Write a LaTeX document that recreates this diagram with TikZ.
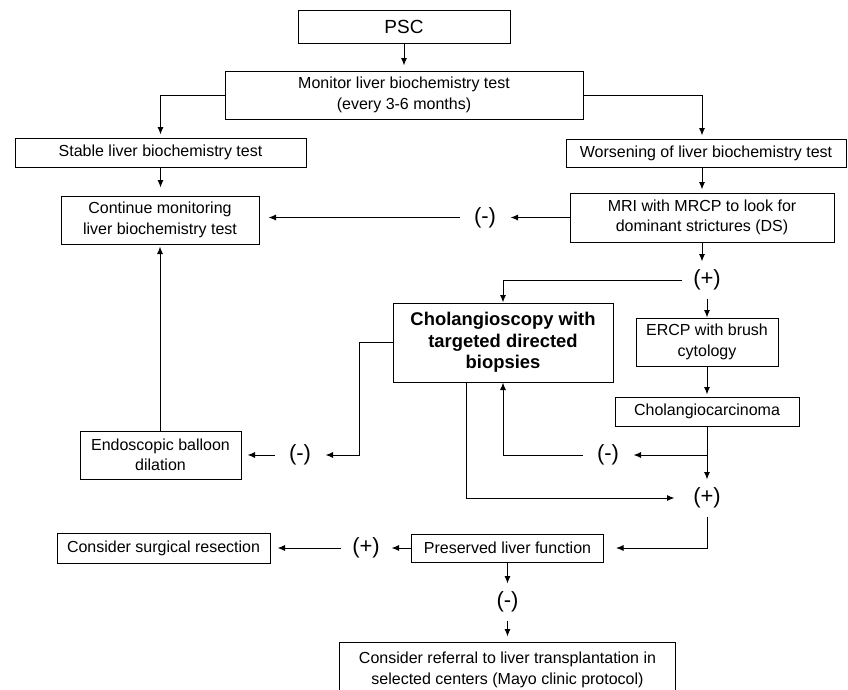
\documentclass[tikz,border=0pt]{standalone}
\usepackage{fontspec}
\setmainfont{Liberation Sans}
\usetikzlibrary{arrows.meta,calc}
\begin{document}
\begin{tikzpicture}[x=1pt,y=-1pt,
  line width=1pt,
  every node/.style={font=\fontsize{16}{20.5}\selectfont},
  box/.style 2 args={draw, line width=1pt, inner sep=0pt, align=center, minimum width=#1, minimum height=#2},
  sign/.style={inner sep=0pt, minimum width=50pt, minimum height=36pt, font=\fontsize{22}{24}\selectfont},
  arr/.style={-{Latex[length=7.5pt,width=6pt]}},
]
\useasboundingbox (0,0) rectangle (848,689);

\node[box={212pt}{33pt}, font=\fontsize{19}{22}\selectfont] (psc) at (404,26.5) {PSC};
\node[box={358pt}{48pt}] (mon) at (404,95) {Monitor liver biochemistry test\\(every 3-6 months)};
\node[box={291pt}{29pt}] (stab) at (160.5,152.5) {Stable liver biochemistry test};
\node[box={280pt}{28pt}] (wors) at (706,153) {Worsening of liver biochemistry test};
\node[box={198pt}{48pt}] (cont) at (160,220) {Continue monitoring\\liver biochemistry test};
\node[box={264pt}{49pt}] (mri) at (702,217.5) {MRI with MRCP to look for\\dominant strictures (DS)};
\node[sign] (m1) at (485,217.5) {(-)};
\node[sign] (p1) at (707,280) {(+)};
\node[box={220pt}{79pt}, font=\fontsize{18.4}{21.5}\selectfont\bfseries] (chol) at (503,342.5) {Cholangioscopy with\\targeted directed\\biopsies};
\node[box={142pt}{48pt}] (ercp) at (707,342) {ERCP with brush\\cytology};
\node[box={184pt}{29pt}] (carc) at (707,411.5) {Cholangiocarcinoma};
\node[sign] (m2) at (608,455) {(-)};
\node[sign] (m3) at (300,455) {(-)};
\node[box={161pt}{48pt}] (endo) at (160.5,455) {Endoscopic balloon\\dilation};
\node[sign] (p2) at (707,498) {(+)};
\node[box={192pt}{28pt}] (pres) at (507.5,548) {Preserved liver function};
\node[sign] (p3) at (366,548) {(+)};
\node[box={213pt}{30pt}] (surg) at (163.5,548) {Consider surgical resection};
\node[sign] (m4) at (507.5,602) {(-)};
\node[box={336pt}{56pt}] (ref) at (507.5,670) {Consider referral to liver transplantation in\\selected centers (Mayo clinic protocol)};

\draw[arr, shorten >=5pt] (psc.south) -- (psc.south |- mon.north);
\draw[arr, shorten >=3pt] (mon.west) -| (stab.north);
\draw[arr, shorten >=3pt] (mon.east) -| (wors.north -| mri.north);
\draw[arr, shorten >=8pt] (stab.south) -- (stab.south |- cont.north);
\draw[arr, shorten >=3pt] (wors.south -| mri.north) -- (mri.north);
\draw[arr] (mri.west) -- (m1.east);
\draw[arr, shorten >=9pt] (m1.west) -- (m1.west -| cont.east);
\draw[arr] (mri.south) -- (mri.south |- p1.north);
\draw[arr] (p1.west) -| (chol.north);
\draw[arr] (p1.south) -- (p1.south |- ercp.north);
\draw[arr, shorten >=2pt] (ercp.south) -- (carc.north);
\draw[arr] (carc.south) -- (p2.north);
\draw[arr] (carc.south |- m2.east) -- (m2.east);
\draw[arr] (m2.west) -| (chol.south);
\draw[arr] (chol.west) -- ++(-33,0) |- (m3.east);
\draw[arr, shorten >=6pt] (m3.west) -- (m3.west -| endo.east);
\draw[arr, shorten >=2pt] (cont.south |- endo.north) -- (cont.south);
\draw[arr, shorten >=7pt] ($(chol.south)+(-37,0)$) |- (p2.west);
\draw[arr, shorten >=12pt] (p2.south) |- (pres.east);
\draw[arr] (pres.west) -- (p3.east);
\draw[arr, shorten >=7pt] (p3.west) -- (p3.west -| surg.east);
\draw[arr] (pres.south) -- (m4.north);
\draw[arr, shorten >=5pt] (m4.south) -- (ref.north);
\end{tikzpicture}
\end{document}
